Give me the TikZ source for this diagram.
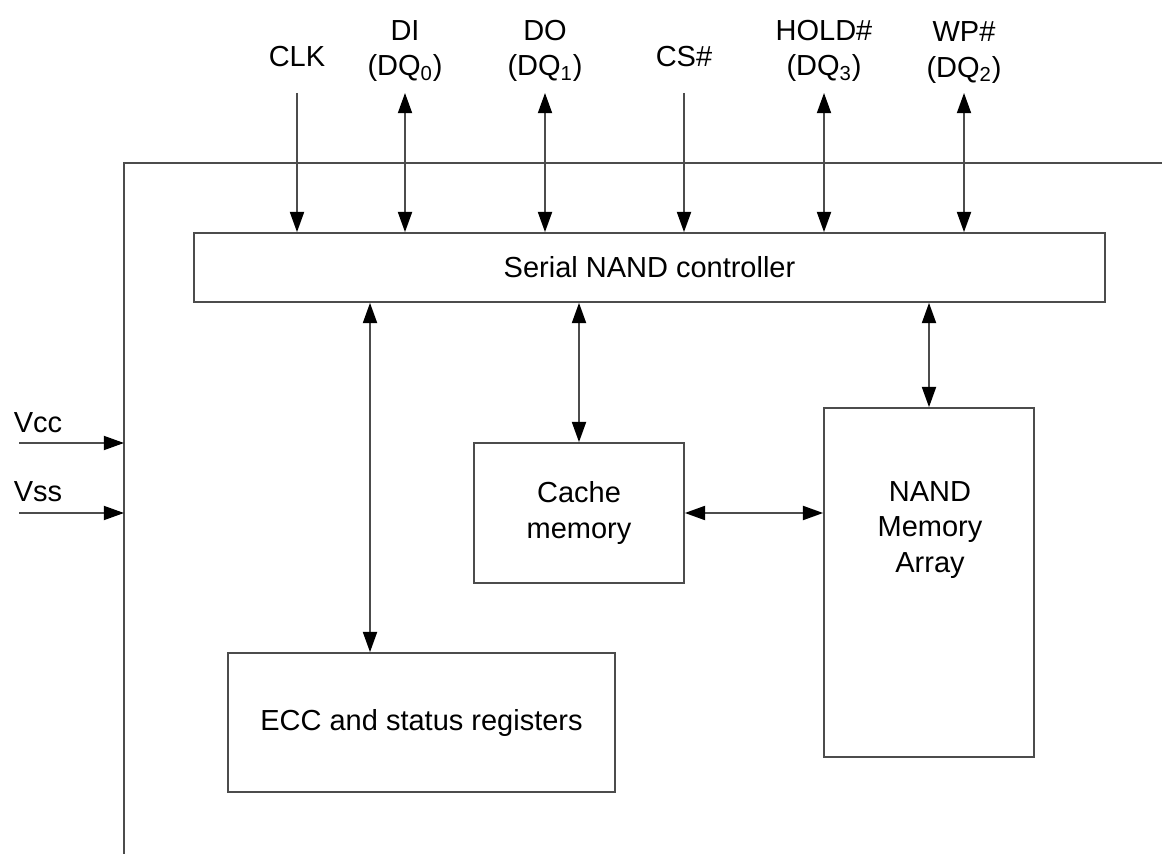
\documentclass[tikz,border=0pt]{standalone}
\usepackage{fontspec}
\setmainfont{Liberation Sans}
\usetikzlibrary{arrows.meta}

\begin{document}
\begin{tikzpicture}[x=0.02cm,y=-0.02cm,font=\fontsize{16.5}{20}\selectfont,
block/.style={draw=black!70, line width=1pt, inner sep=0pt, align=center},
sig/.style={black!70, line width=1pt, -{Triangle[length=11.5pt,width=8pt,color=black]}},
bus/.style={black!70, line width=1pt, {Triangle[length=11.5pt,width=8pt,color=black]}-{Triangle[length=11.5pt,width=8pt,color=black]}}]
\useasboundingbox (0,0) rectangle (1162,854);
% chip outline
\coordinate (corner) at (124,163);
\draw[black!70, line width=1pt] (1162,163) -- (corner) -- (124,854);
% blocks
\node[block, minimum width=18.22cm, minimum height=1.38cm] (ctrl) at (649.5,267.5) {Serial NAND controller};
\node[block, minimum width=4.2cm, minimum height=2.8cm] (cache) at (579,513) {Cache\\memory};
\node[block, minimum width=4.2cm, minimum height=6.98cm] (nand) at (929,582.5) {};
\node[align=center] (nandtxt) at (930,530) {NAND\\Memory\\Array};
\node[block, minimum width=7.74cm, minimum height=2.78cm] (ecc) at (421.5,722.5) {ECC and status registers};
% pins
\node (clk) at (297,56.5) {CLK};
\node[align=center] (di) at (405,51) {DI\\(DQ\textsubscript{0})};
\node[align=center] (do) at (545,51) {DO\\(DQ\textsubscript{1})};
\node (cs) at (684,56.5) {CS\#};
\node[align=center] (hold) at (824,51) {HOLD\#\\(DQ\textsubscript{3})};
\node[align=center] (wp) at (964,52.5) {WP\#\\(DQ\textsubscript{2})};
\coordinate (clkpin) at (297,93);
\coordinate (dipin) at (405,93);
\coordinate (dopin) at (545,93);
\coordinate (cspin) at (684,93);
\coordinate (holdpin) at (824,93);
\coordinate (wppin) at (964,93);
\draw[sig] (clkpin) -- (clkpin |- ctrl.north);
\draw[bus] (dipin) -- (dipin |- ctrl.north);
\draw[bus] (dopin) -- (dopin |- ctrl.north);
\draw[sig] (cspin) -- (cspin |- ctrl.north);
\draw[bus] (holdpin) -- (holdpin |- ctrl.north);
\draw[bus] (wppin) -- (wppin |- ctrl.north);
% supply
\node (vcc) at (38,422.5) {Vcc};
\node (vss) at (38,491.5) {Vss};
\coordinate (vccin) at (19,443);
\coordinate (vssin) at (19,513);
\draw[sig] (vccin) -- (vccin -| corner);
\draw[sig] (vssin) -- (vssin -| corner);
% internal buses
\draw[bus] ([xshift=-1.03cm]ecc.north) -- ([xshift=-1.03cm]ecc.north |- ctrl.south);
\draw[bus] (cache.north) -- (cache.north |- ctrl.south);
\draw[bus] (nand.north) -- (nand.north |- ctrl.south);
\draw[bus] (cache.east) -- (cache.east -| nand.west);
\end{tikzpicture}
\end{document}
